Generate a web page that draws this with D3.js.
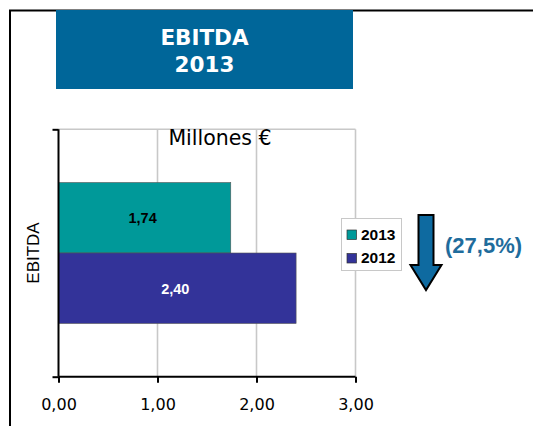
<!DOCTYPE html>
<html>
<head>
<meta charset="utf-8">
<script src="https://cdn.jsdelivr.net/npm/d3@7"></script>
<style>
  html, body { margin: 0; padding: 0; background: #fff; }
  svg { display: block; }
</style>
</head>
<body>
<script>
// ---- data ----
const categories = ["EBITDA"];
const series = ["2013", "2012"];
const values = [1.74, 2.40];
const seriesColors = ["#009999", "#333399"];
const labelColors = ["#000000", "#ffffff"];
const xTicks = [0, 1, 2, 3];
const titleLines = ["EBITDA", "2013"];
const unitLabel = "Millones €";
const changeLabel = "(27,5%)";

const W = 533, H = 426;
const svg = d3.select("body").append("svg").attr("width", W).attr("height", H);

// outer frame
svg.append("path").attr("d", `M10,${H} V10.5 H${W}`)
  .attr("fill", "none").attr("stroke", "#000").attr("stroke-width", 2);

// title box
const tb = {x: 56, y: 10, w: 297, h: 79};
svg.append("rect").attr("x", tb.x).attr("y", tb.y).attr("width", tb.w).attr("height", tb.h)
  .attr("fill", "#006699");
svg.selectAll("text.title").data(titleLines).join("text")
  .attr("class", "title")
  .attr("x", tb.x + tb.w / 2)
  .attr("y", (d, i) => 45 + i * 26.5)
  .attr("text-anchor", "middle")
  .attr("font-family", "DejaVu Sans, Verdana, sans-serif")
  .attr("font-weight", "bold")
  .attr("font-size", 21.5)
  .attr("fill", "#fff")
  .text(d => d);

// plot area
const plot = {left: 58.5, right: 355.5, top: 129.3, bottom: 376.7};
const x = d3.scaleLinear().domain([0, 3]).range([plot.left, plot.right]);
const yCat = d3.scaleBand().domain(categories).range([plot.top, plot.bottom]).padding(0.274);
const ySer = d3.scaleBand().domain(series).range([0, yCat.bandwidth()]);
const yEdge = d3.scaleLinear().domain([0, 1]).range([plot.top, plot.bottom]);

// gridlines
svg.append("g").selectAll("line").data(xTicks.filter(d => d > 0)).join("line")
  .attr("x1", d => x(d)).attr("x2", d => x(d))
  .attr("y1", plot.top).attr("y2", plot.bottom)
  .attr("stroke", "#c8c8c8").attr("stroke-width", 1.6);
svg.append("line")
  .attr("x1", plot.left).attr("x2", x(3))
  .attr("y1", plot.top).attr("y2", plot.top)
  .attr("stroke", "#c8c8c8").attr("stroke-width", 1.6);

// bars
const rows = series.map((s, i) => ({s, v: values[i], c: seriesColors[i], lc: labelColors[i]}));
const g = svg.append("g").attr("transform", `translate(0,${yCat(categories[0])})`);
g.selectAll("rect").data(rows).join("rect")
  .attr("x", x(0))
  .attr("y", d => ySer(d.s))
  .attr("width", d => x(d.v) - x(0))
  .attr("height", ySer.bandwidth())
  .attr("fill", d => d.c)
  .attr("stroke", "#555")
  .attr("stroke-width", 0.6);
g.selectAll("text").data(rows).join("text")
  .attr("x", d => (x(0) + x(d.v)) / 2 - 2)
  .attr("y", d => ySer(d.s) + ySer.bandwidth() / 2 + 5.5)
  .attr("text-anchor", "middle")
  .attr("font-family", "Liberation Sans, Arial, sans-serif")
  .attr("font-weight", "bold")
  .attr("font-size", 14.5)
  .attr("fill", d => d.lc)
  .text(d => d.v.toFixed(2).replace(".", ","));

// x axis
const xAxis = svg.append("g").attr("transform", `translate(0,${plot.bottom})`)
  .call(d3.axisBottom(x).tickValues(xTicks).tickSize(6).tickPadding(16)
    .tickFormat(d => d.toFixed(2).replace(".", ",")));
xAxis.select(".domain").attr("stroke", "#000").attr("stroke-width", 2)
  .attr("d", `M${x(0)},0H${x(3)}`);
xAxis.selectAll(".tick line").attr("stroke", "#000").attr("stroke-width", 2);
xAxis.selectAll("text").attr("font-family", "DejaVu Sans, Verdana, sans-serif")
  .attr("font-size", 16).attr("fill", "#000");

// y axis
const yAxis = svg.append("g").attr("transform", `translate(${plot.left},0)`)
  .call(d3.axisLeft(yEdge).tickValues([0, 1]).tickSize(6).tickFormat(""));
yAxis.select(".domain").attr("stroke", "#000").attr("stroke-width", 2)
  .attr("d", `M0,${plot.top}V${plot.bottom}`);
yAxis.selectAll(".tick line").attr("stroke", "#000").attr("stroke-width", 2);

// axis title
svg.append("text")
  .attr("transform", `translate(38.5,${(plot.top + plot.bottom) / 2}) rotate(-90)`)
  .attr("text-anchor", "middle")
  .attr("font-family", "Liberation Sans, Arial, sans-serif")
  .attr("font-size", 17)
  .attr("fill", "#000")
  .text(categories[0]);

// unit label
svg.append("text")
  .attr("x", 220).attr("y", 145)
  .attr("text-anchor", "middle")
  .attr("font-family", "DejaVu Sans, Verdana, sans-serif")
  .attr("font-size", 20.5)
  .attr("fill", "#000")
  .text(unitLabel);

// legend
const lg = svg.append("g");
lg.append("rect").attr("x", 341.5).attr("y", 218.5).attr("width", 60).attr("height", 52)
  .attr("fill", "#fff").attr("stroke", "#c8c8c8").attr("stroke-width", 1);
const li = lg.selectAll("g.item").data(rows).join("g").attr("class", "item")
  .attr("transform", (d, i) => `translate(347,${230 + i * 23.5})`);
li.append("rect").attr("width", 9.5).attr("height", 9.5)
  .attr("fill", d => d.c).attr("stroke", "#333").attr("stroke-width", 0.7);
li.append("text").attr("x", 14).attr("y", 9.5)
  .attr("font-family", "Liberation Sans, Arial, sans-serif")
  .attr("font-weight", "bold").attr("font-size", 15.5).attr("fill", "#000")
  .text(d => d.s);

// arrow
const ax = 426, at = 215;
svg.append("path")
  .attr("d", `M${ax - 7.5},${at} H${ax + 7.5} V${at + 50} H${ax + 15.5} L${ax},${at + 75} L${ax - 15.5},${at + 50} H${ax - 7.5} Z`)
  .attr("fill", "#0e6aa0").attr("stroke", "#000").attr("stroke-width", 2).attr("stroke-linejoin", "miter");

svg.append("text")
  .attr("x", 445).attr("y", 252.5)
  .attr("font-family", "Liberation Sans, Arial, sans-serif")
  .attr("font-weight", "bold").attr("font-size", 22)
  .attr("fill", "#1f6c9c")
  .text(changeLabel);
</script>
</body>
</html>
